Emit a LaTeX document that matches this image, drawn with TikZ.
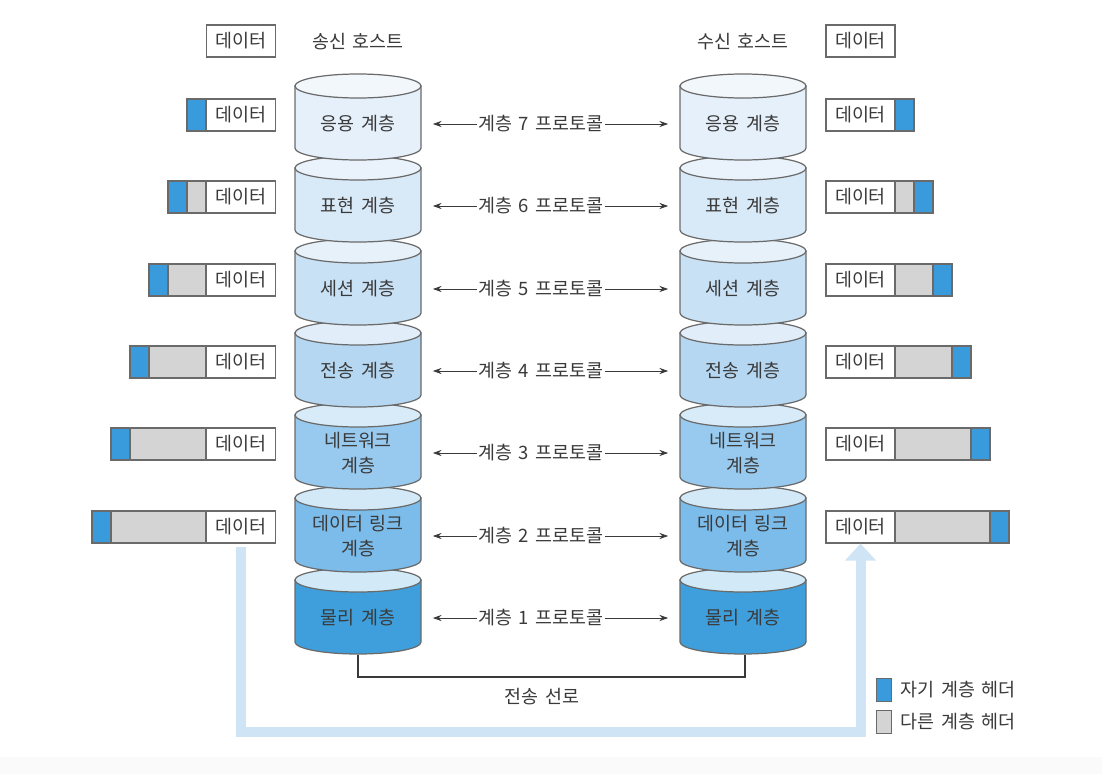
\documentclass[tikz,border=0pt]{standalone}
\usepackage{fontspec}
\setmainfont[WordSpace=1.5]{Noto Sans CJK KR}
\usepackage{tikz}
\usetikzlibrary{arrows.meta,positioning}
\definecolor{txt}{HTML}{3A3A3A}
\definecolor{edge}{HTML}{6A6A6A}
\definecolor{ownhdr}{HTML}{3A9BDC}
\definecolor{otherhdr}{HTML}{D4D4D4}
\definecolor{flow}{HTML}{CFE5F6}
\definecolor{bodyA}{HTML}{3E9FDC}\definecolor{endA}{HTML}{D2E9F8}
\definecolor{bodyB}{HTML}{7BBCEA}\definecolor{endB}{HTML}{D3E9F8}
\definecolor{bodyC}{HTML}{98C9EE}\definecolor{endC}{HTML}{D8EBF9}
\definecolor{bodyD}{HTML}{B5D7F1}\definecolor{endD}{HTML}{E1EEF9}
\definecolor{bodyE}{HTML}{C9E1F5}\definecolor{endE}{HTML}{E6F1FA}
\definecolor{bodyF}{HTML}{D8E9F7}\definecolor{endF}{HTML}{EAF3FB}
\definecolor{bodyG}{HTML}{E6F0FA}\definecolor{endG}{HTML}{F2F7FC}

\begin{document}
\begin{tikzpicture}[x=0.02cm, y=0.02cm,
    font=\fontsize{10.5}{14}\selectfont, text=txt,
    layer/.style={draw=edge, line width=0.7pt},
    layertext/.style={align=center, minimum width=2.5cm, inner sep=0pt},
    databox/.style={draw=edge, fill=white, line width=0.6pt,
                    minimum width=1.38cm, minimum height=0.64cm, inner sep=0pt},
    hdrown/.style={draw=edge, fill=ownhdr, line width=0.6pt},
    hdrother/.style={draw=edge, fill=otherhdr, line width=0.6pt},
    proto/.style={{Stealth[length=5pt,width=3.5pt]}-{Stealth[length=5pt,width=3.5pt]},
                  draw=txt, line width=0.5pt, shorten <=0.24cm, shorten >=0.24cm},
    protolabel/.style={fill=white, inner sep=1pt, text=txt},
    flowarrow/.style={draw=flow, line width=0.2cm, shorten <=2pt,
                      -{Triangle[width=0.6cm,length=0.34cm]}},
    wire/.style={draw=txt, line width=0.8pt},
  ]
  \useasboundingbox (0,0) rectangle (1102,-774);
  \fill[white] (0,0) rectangle (1102,-774);
  \fill[black!2] (0,-757) rectangle (1102,-774);

  % host titles and plain data
  \node (sendhost) at (358,-42) {송신 호스트};
  \node (recvhost) at (743,-42) {수신 호스트};
  \node[databox] (sd0) at (241,-41) {데이터};
  \node[databox] (rd0) at (860.5,-41) {데이터};

  % layer stacks, bottom first
  \foreach \i/\ty/\cb/\ce/\lbl in {1/618/bodyA/endA/{물리 계층},
                                   2/536/bodyB/endB/{데이터 링크\\계층},
                                   3/453/bodyC/endC/{네트워크\\계층},
                                   4/371/bodyD/endD/{전송 계층},
                                   5/289/bodyE/endE/{세션 계층},
                                   6/206/bodyF/endF/{표현 계층},
                                   7/124/bodyG/endG/{응용 계층}} {
    \foreach \x/\side in {358/s,743/r} {
      \filldraw[layer, fill=\cb] (\x-63,-\ty+38) -- (\x-63,-\ty-24)
          arc[start angle=180, end angle=360, x radius=63, y radius=12]
          -- (\x+63,-\ty+38) -- cycle;
      \filldraw[layer, fill=\ce] (\x,-\ty+38) ellipse[x radius=63, y radius=12];
      \node[layertext] (\side\i) at (\x,-\ty) {\lbl};
    }
    \draw[proto] (s\i.east) -- node[protolabel, pos=0.463] {계층 \i{} 프로토콜} (r\i.west);
  }

  % encapsulated data
  \foreach \i/\ty in {7/124,6/206,5/289,4/371,3/453,2/536} {
    \pgfmathtruncatemacro\n{7-\i}
    \draw[hdrother] (206-19*\n,-\ty+25) rectangle (206,-\ty-7);
    \draw[hdrown] (187-19*\n,-\ty+25) rectangle (206-19*\n,-\ty-7);
    \node[databox] (sd\i) at (241,-\ty+9) {데이터};
    \node[databox] (rd\i) at (860.5,-\ty+9) {데이터};
    \draw[hdrother] (895,-\ty+25) rectangle (895+19*\n,-\ty-7);
    \draw[hdrown] (895+19*\n,-\ty+25) rectangle (914+19*\n,-\ty-7);
  }

  % physical link
  \coordinate (sbase) at (358,-655);
  \coordinate (rbase) at (745,-655);
  \draw[wire] (sbase) -- ++(0,-22) -| (rbase);
  \node (wirelbl) at (542,-697) {전송 선로};

  % flow of data
  \draw[flowarrow] (sd2.south) -- ++(0,-188) -| (rd2.south);

  % legend
  \node[hdrown, minimum width=0.3cm, minimum height=0.46cm, inner sep=0pt] (keyown) at (884,-690) {};
  \node[right=0.17cm of keyown, inner sep=0pt] (keyownlbl) {자기 계층 헤더};
  \node[hdrother, minimum width=0.3cm, minimum height=0.46cm, inner sep=0pt] (keyother) at (884,-722) {};
  \node[right=0.17cm of keyother, inner sep=0pt] (keyotherlbl) {다른 계층 헤더};
\end{tikzpicture}
\end{document}
